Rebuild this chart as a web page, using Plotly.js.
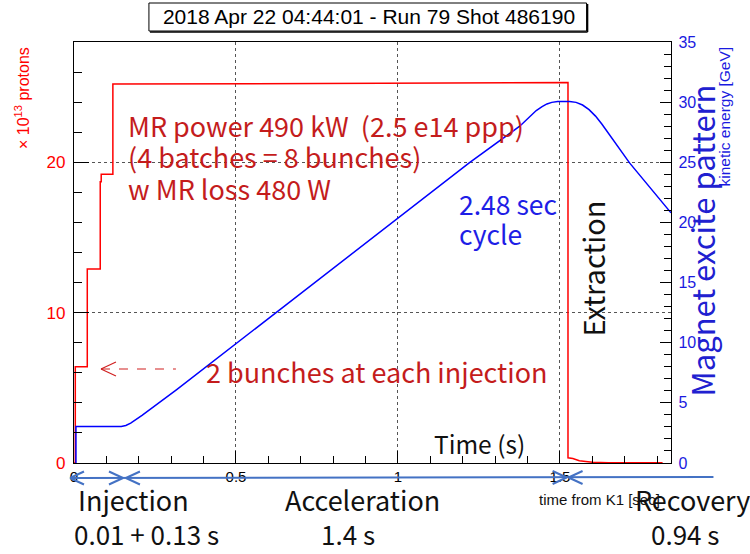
<!DOCTYPE html>
<html>
<head>
<meta charset="utf-8">
<script src="https://cdn.plot.ly/plotly-3.0.1.min.js"></script>
<style>html,body{margin:0;padding:0;background:#fff;}</style>
</head>
<body>
<div id="chart" style="width:750px;height:554px;"></div>
<script>
// ---- data ----
const protonTime = [0, 0.004, 0.004, 0.041, 0.041, 0.081, 0.081, 0.084, 0.084, 0.12, 0.12, 1.525, 1.525, 1.54, 1.56, 1.60, 1.65, 1.817];
const protons    = [0, 0, 6.4, 6.4, 12.9, 12.9, 18.7, 18.7, 19.2, 19.2, 25.2, 25.3, 0.35, 0.3, 0.15, 0.05, 0.02, 0.02];

const energyTime = [0.006, 0.006, 0.146, 0.16, 0.175, 0.19, 0.21, 0.316, 0.496, 1.0, 1.221, 1.376, 1.405, 1.427, 1.445, 1.46, 1.475, 1.493, 1.53, 1.55, 1.57, 1.59, 1.61, 1.63, 1.715, 1.843];
const energyGeV  = [0, 3.03, 3.03, 3.12, 3.32, 3.58, 3.96, 6.08, 9.83, 20.35, 24.97, 28.0, 28.75, 29.3, 29.62, 29.85, 29.98, 30.06, 30.06, 29.98, 29.76, 29.38, 28.84, 28.16, 24.95, 20.8];

const xTickVals = [0, 0.5, 1, 1.5];
const xTickText = ["0", "0.5", "1", "1.5"];
const yTickVals = [0, 10, 20];
const yTickText = ["0", "10", "20"];
const y2TickVals = [0, 5, 10, 15, 20, 25, 30, 35];
const y2TickText = ["0", "5", "10", "15", "20", "25", "30", "35"];

// ---- pixel -> paper helpers for decorations ----
const L = 74, R = 671.5, T = 42, B = 463;
const px = x => (x - L) / (R - L);
const py = y => (B - y) / (B - T);

const JP = "Noto Sans CJK JP, Noto Sans, sans-serif";
const HV = "Liberation Sans, Arial, sans-serif";
const RED_T = "#c41c1c";
const BLUE_T = "#1e1ee6";

function ann(text, x, y, opts) {
  return Object.assign({
    text: text, xref: "paper", yref: "paper", x: px(x), y: py(y),
    xanchor: "left", yanchor: "middle", showarrow: false,
    font: {family: JP, size: 26, color: "#111"}
  }, opts || {});
}
function seg(x0, y0, x1, y1, color, width, dash) {
  return {type: "line", xref: "paper", yref: "paper",
    x0: px(x0), y0: py(y0), x1: px(x1), y1: py(y1),
    line: {color: color, width: width, dash: dash || "solid"}, layer: "above"};
}

const traces = [
  {x: protonTime, y: protons, type: "scatter", mode: "lines",
   line: {color: "#ff0000", width: 1.5}, yaxis: "y", hoverinfo: "skip"},
  {x: energyTime, y: energyGeV, type: "scatter", mode: "lines",
   line: {color: "#0000ff", width: 1.5}, yaxis: "y2", hoverinfo: "skip"}
];

const AB = "#4472c4";
const shapes = [
  // title box
  {type: "rect", xref: "paper", yref: "paper", x0: px(149), x1: px(587),
   y0: py(31), y1: py(3), line: {color: "#000", width: 1}, fillcolor: "rgba(0,0,0,0)", layer: "above"},
  seg(150, 32, 588, 32, "#000", 1.5),
  seg(588, 4, 588, 32, "#000", 1.5),
  // red dashed arrow
  seg(101, 369, 176, 369, "#d02020", 1.2, "dash"),
  seg(101, 369, 116, 362, "#d02020", 1.2),
  seg(101, 369, 116, 376, "#d02020", 1.2),
  // blue phase arrows
  seg(70, 478, 714, 477, AB, 2),
  seg(70, 478, 84, 471.5, AB, 2), seg(70, 478, 84, 484.5, AB, 2),
  seg(123, 478, 109, 471.5, AB, 2), seg(123, 478, 109, 484.5, AB, 2),
  seg(126, 478, 140, 471.5, AB, 2), seg(126, 478, 140, 484.5, AB, 2),
  seg(567, 477.5, 553, 471, AB, 2), seg(567, 477.5, 553, 484, AB, 2),
  seg(569, 477.5, 583, 471, AB, 2), seg(569, 477.5, 583, 484, AB, 2)
];

const redFont = {family: JP, size: 27, color: RED_T};
const blueFont = {family: JP, size: 26.5, color: BLUE_T};
const bottomFont = {family: JP, size: 27, color: "#111"};
const numFont = {family: JP, size: 26, color: "#111"};
const annotations = [
  ann("MR power 490 kW \u00a0(2.5 e14 ppp)", 126, 125, {font: redFont}),
  ann("(4 batches = 8 bunches)", 126, 156, {font: redFont}),
  ann("w MR loss 480 W", 126, 188, {font: redFont}),
  ann("2 bunches at each injection", 204, 371, {font: redFont}),
  ann("2.48 sec", 457, 203, {font: blueFont}),
  ann("cycle", 457, 234, {font: blueFont}),
  ann("Extraction", 592, 269, {xanchor: "center", textangle: -90, font: {family: JP, size: 29, color: "#111"}}),
  ann("Time (s)", 432, 443, {font: {family: JP, size: 24.5, color: "#111"}}),
  ann("time from K1 [sec]", 537, 499, {font: {family: HV, size: 15, color: "#111"}}),
  ann("Injection", 76, 499, {font: bottomFont}),
  ann("Acceleration", 283, 499, {font: bottomFont}),
  ann("Recovery", 633, 499, {font: bottomFont}),
  ann("0.01 + 0.13 s", 72, 553.5, {font: numFont, yanchor: "bottom"}),
  ann("1.4 s", 319, 553.5, {font: numFont, yanchor: "bottom"}),
  ann("0.94 s", 649, 553.5, {font: numFont, yanchor: "bottom"}),
  // axis titles
  ann("\u00d7 10<sup>13</sup> protons", 22, 98, {xanchor: "center", textangle: -90, font: {family: HV, size: 16, color: "#ff0000"}}),
  ann("kinetic energy [GeV]", 725, 116, {xanchor: "center", textangle: -90, font: {family: HV, size: 15.5, color: "#1a1ae0"}}),
  ann("Magnet excite pattern", 702, 240, {xanchor: "center", textangle: -90, font: {family: JP, size: 31, color: "#2020d0"}})
];

const layout = {
  width: 750, height: 554,
  paper_bgcolor: "#fff", plot_bgcolor: "#fff",
  margin: {l: L, r: 750 - R, t: T, b: 554 - B, pad: 0},
  showlegend: false,
  title: {text: "2018 Apr 22 04:44:01 - Run 79 Shot 486190",
          font: {family: HV, size: 21, color: "#000"},
          xref: "container", yref: "container", x: 369/750, xanchor: "center", y: 1 - 17/554, yanchor: "middle"},
  xaxis: {range: [0, 1.843], tickmode: "array", tickvals: xTickVals, ticktext: xTickText,
          ticks: "inside", ticklen: 12, tickwidth: 1, tickcolor: "#000",
          showline: true, linecolor: "#000", linewidth: 1.2, mirror: true,
          showgrid: true, gridcolor: "#555", griddash: "dot", gridwidth: 1, zeroline: false,
          minor: {tickmode: "linear", tick0: 0, dtick: 0.1, ticks: "inside", ticklen: 7, tickcolor: "#000", showgrid: false},
          tickfont: {family: HV, size: 15, color: "#000"}, fixedrange: true},
  yaxis: {range: [0, 28], tickmode: "array", tickvals: yTickVals, ticktext: yTickText,
          ticks: "inside", ticklen: 15, tickwidth: 1, tickcolor: "#000",
          showline: true, linecolor: "#000", linewidth: 1.2,
          showgrid: true, gridcolor: "#555", griddash: "dot", gridwidth: 1, zeroline: false,
          minor: {tickmode: "linear", tick0: 0, dtick: 2, ticks: "inside", ticklen: 8, tickcolor: "#000", showgrid: false},
          tickfont: {family: HV, size: 17, color: "#ff0000"}, ticklabelstandoff: 4, fixedrange: true},
  yaxis2: {range: [0, 35], overlaying: "y", side: "right", tickmode: "array", tickvals: y2TickVals, ticktext: y2TickText,
          ticks: "inside", ticklen: 11, tickwidth: 1, tickcolor: "#000",
          showline: true, linecolor: "#000", linewidth: 1.2,
          showgrid: false, zeroline: false,
          minor: {tickmode: "linear", tick0: 0, dtick: 1, ticks: "inside", ticklen: 7, tickcolor: "#000", showgrid: false},
          tickfont: {family: HV, size: 16, color: "#1a1ae0"}, ticklabelstandoff: 3, fixedrange: true},
  shapes: shapes,
  annotations: annotations
};

Plotly.newPlot("chart", traces, layout, {displayModeBar: false, staticPlot: true});
</script>
</body>
</html>
